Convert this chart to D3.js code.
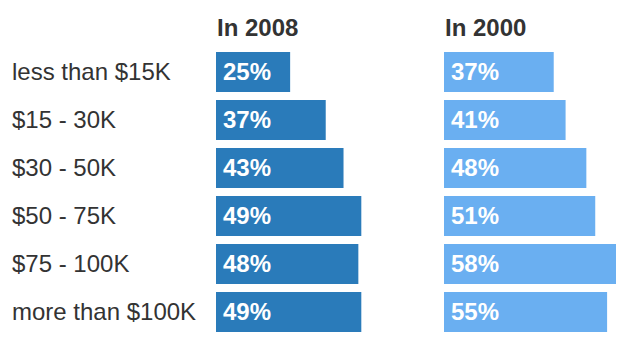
<!DOCTYPE html>
<html>
<head>
<meta charset="utf-8">
<script src="https://cdn.jsdelivr.net/npm/d3@7"></script>
<style>
  body { margin: 0; background: #fff; }
  text { font-family: "Liberation Sans", Arial, Helvetica, sans-serif; }
</style>
</head>
<body>
<svg width="642" height="352"></svg>
<script>
// income brackets
const brackets = ["less than $15K", "$15 - 30K", "$30 - 50K", "$50 - 75K", "$75 - 100K", "more than $100K"];
// share per bracket, percent
const values2008 = [25, 37, 43, 49, 48, 49];
const values2000 = [37, 41, 48, 51, 58, 55];
const groupTitles = ["In 2008", "In 2000"];

var svg = d3.select("svg");

// rows
var y = d3.scaleBand()
    .domain(brackets)
    .range([48, 336])
    .paddingInner(1 / 6)
    .paddingOuter(1 / 12);

// bar length
var x = d3.scaleLinear()
    .domain([0, 58])
    .range([0, 172]);

// row labels
svg.append("g")
    .selectAll("text")
    .data(brackets)
    .enter().append("text")
    .attr("x", 12)
    .attr("y", d => y(d) + y.bandwidth() / 2)
    .attr("dy", "0.35em")
    .attr("fill", "#333")
    .style("font-size", "24px")
    .text(d => d);

const groups = [
    { title: groupTitles[0], values: values2008, left: 216, color: "#2a7bba" },
    { title: groupTitles[1], values: values2000, left: 444, color: "#6aaff1" }
];

groups.forEach(function (grp) {
    var g = svg.append("g").attr("transform", "translate(" + grp.left + ",0)");

    g.append("text")
        .attr("x", 1)
        .attr("y", 36)
        .attr("fill", "#333")
        .style("font-size", "24px")
        .style("font-weight", "bold")
        .text(grp.title);

    g.selectAll("rect")
        .data(grp.values)
        .enter().append("rect")
        .attr("x", 0)
        .attr("y", (d, i) => y(brackets[i]))
        .attr("width", d => x(d))
        .attr("height", y.bandwidth())
        .attr("fill", grp.color);

    g.selectAll("text.val")
        .data(grp.values)
        .enter().append("text")
        .attr("class", "val")
        .attr("x", 7)
        .attr("y", (d, i) => y(brackets[i]) + y.bandwidth() / 2)
        .attr("dy", "0.35em")
        .attr("fill", "#fff")
        .style("font-size", "24px")
        .style("font-weight", "bold")
        .text(d => d + "%");
});
</script>
</body>
</html>
